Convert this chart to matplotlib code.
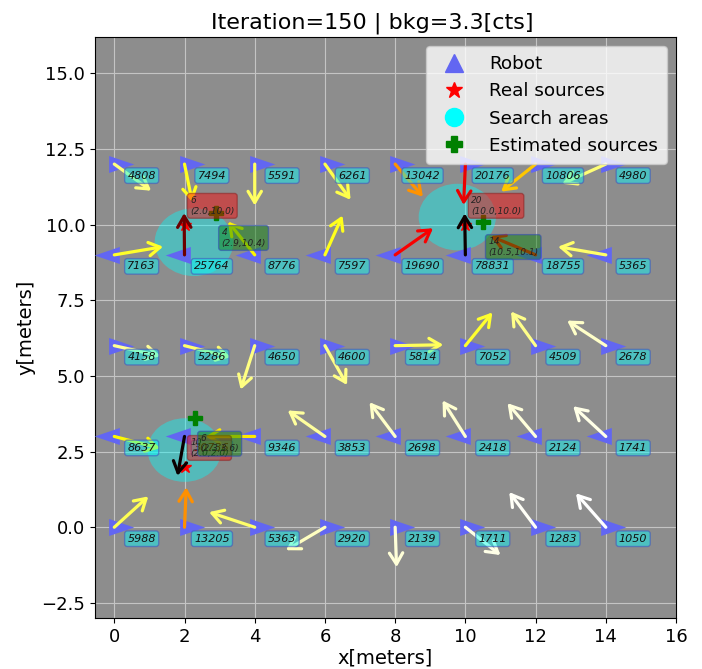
import numpy as np
import matplotlib
matplotlib.use("Agg")
import matplotlib.pyplot as plt
from matplotlib.path import Path
from matplotlib.lines import Line2D
from matplotlib.patches import Circle, FancyArrowPatch
import matplotlib.colors as mcolors

# ---------------- data ----------------
title = "Iteration=150 | bkg=3.3[cts]"
grid_x = [0, 2, 4, 6, 8, 10, 12, 14]
row_y = [12, 9, 6, 3, 0]
row_heading = ["right", "left", "right", "left", "right"]

counts_y12 = [4808, 7494, 5591, 6261, 13042, 20176, 10806, 4980]
counts_y9 = [7163, 25764, 8776, 7597, 19690, 78831, 18755, 5365]
counts_y6 = [4158, 5286, 4650, 4600, 5814, 7052, 4509, 2678]
counts_y3 = [8637, 30736, 9346, 3853, 2698, 2418, 2124, 1741]
counts_y0 = [5988, 13205, 5363, 2920, 2139, 1711, 1283, 1050]

# arrow tips (x, y) for each robot, row by row
tips_y12 = [(1.05, 11.12), (2.22, 10.75), (4.0, 10.63), (6.73, 10.82),
            (8.79, 10.92), (9.95, 10.65), (11.02, 11.09), (12.76, 11.35)]
tips_y9 = [(1.39, 9.27), (1.99, 10.38), (3.24, 10.1), (6.5, 10.3),
           (9.08, 9.88), (9.98, 10.37), (10.72, 9.62), (12.64, 9.27)]
tips_y6 = [(1.31, 5.66), (3.31, 5.62), (3.6, 4.55), (6.63, 4.7),
           (9.37, 6.03), (10.77, 7.1), (11.3, 7.13), (12.9, 6.83)]
tips_y3 = [(1.3, 2.61), (1.8, 1.7), (2.6, 3.0), (4.94, 3.86),
           (7.27, 4.13), (9.35, 4.19), (11.2, 4.1), (13.07, 4.0)]
tips_y0 = [(0.97, 1.02), (2.05, 1.32), (2.7, 0.5), (4.89, -0.76),
           (8.04, -1.32), (11.0, -0.92), (11.25, 1.16), (13.15, 1.12)]

src_x = [2.0, 10.0, 2.0]
src_y = [10.0, 10.0, 2.0]
src_int = [6, 20, 10]

est_x = [2.9, 10.5, 2.3]
est_y = [10.4, 10.1, 3.6]
est_int = [4, 14, 6]

area_x = [2.27, 9.77, 2.0]
area_y = [9.42, 10.25, 2.55]
area_r = [1.12, 1.1, 1.05]

row_counts = [counts_y12, counts_y9, counts_y6, counts_y3, counts_y0]
row_tips = [tips_y12, tips_y9, tips_y6, tips_y3, tips_y0]

# ---------------- style ----------------
robot_color = "#6266f2"
bg = "#8d8d8d"
cmap = plt.get_cmap("hot_r")
norm = mcolors.Normalize(vmin=1000, vmax=30000, clip=True)

codes = [Path.MOVETO, Path.LINETO, Path.LINETO, Path.CLOSEPOLY]
right_marker = Path([(-0.27, -0.43), (1.0, 0.0), (-0.27, 0.43), (-0.27, -0.43)], codes)
left_marker = Path([(0.27, -0.43), (-1.0, 0.0), (0.27, 0.43), (0.27, -0.43)], codes)

fig = plt.figure(figsize=(7.02, 6.69), dpi=100)
ax = fig.add_axes([0.1353, 0.0762, 0.8277, 0.8685])
ax.set_facecolor(bg)
ax.set_xlim(-0.55, 16)
ax.set_ylim(-3.0, 16.2)
ax.grid(True, color="#c4c4c4", lw=0.8)
ax.set_axisbelow(True)

# search areas
for cx, cy, r in zip(area_x, area_y, area_r):
    ax.add_patch(Circle((cx, cy), r, facecolor="cyan", alpha=0.4, edgecolor="none", zorder=2))

# robots
for ry, head, counts, tips in zip(row_y, row_heading, row_counts, row_tips):
    mk = right_marker if head == "right" else left_marker
    ax.plot(grid_x, [ry] * len(grid_x), ls="none", marker=mk, ms=28.5,
            color=robot_color, markeredgewidth=0, zorder=3)
    for rx, c, (tx, ty) in zip(grid_x, counts, tips):
        arr = FancyArrowPatch((rx, ry), (tx, ty),
                              arrowstyle="->,head_length=0.5,head_width=0.3",
                              mutation_scale=16, color=cmap(norm(c)), lw=2.3,
                              shrinkA=0, shrinkB=0, zorder=4)
        ax.add_patch(arr)
        ax.text(rx + 0.78, ry - 0.38, str(c), ha="center", va="center",
                fontsize=8, style="italic", color="#111111", zorder=5,
                bbox=dict(boxstyle="round,pad=0.25", fc=(0, 1, 1, 0.45),
                          ec=(0.25, 0.35, 0.75, 0.6), lw=1))

# real sources
ax.plot(src_x, src_y, ls="none", marker="*", color="red", ms=9, zorder=3.5)
for sx, sy, si in zip(src_x, src_y, src_int):
    ax.text(sx + 0.16, sy + 0.3, f"{si}\n({sx:.1f},{sy:.1f})", ha="left", va="bottom",
            fontsize=6.5, style="italic", color="#222222", zorder=6,
            bbox=dict(boxstyle="round,pad=0.3", fc=(1, 0, 0, 0.45),
                      ec=(0.55, 0.1, 0.1, 0.5), lw=1))

# estimated sources
ax.plot(est_x, est_y, ls="none", marker="P", color="green", ms=9.5, zorder=5.5)
for ex, ey, ei in zip(est_x, est_y, est_int):
    ax.text(ex + 0.15, ey - 0.52, f"{ei}\n({ex:.1f},{ey:.1f})", ha="left", va="top",
            fontsize=6.5, style="italic", color="#222222", zorder=7,
            bbox=dict(boxstyle="round,pad=0.3", fc=(0, 0.5, 0, 0.45),
                      ec=(0.2, 0.3, 0.7, 0.6), lw=1))

handles = [
    Line2D([], [], ls="none", marker="^", color=robot_color, ms=13, label="Robot"),
    Line2D([], [], ls="none", marker="*", color="red", ms=12, label="Real sources"),
    Line2D([], [], ls="none", marker="o", color="cyan", ms=13, label="Search areas"),
    Line2D([], [], ls="none", marker="P", color="green", ms=12, label="Estimated sources"),
]
leg = ax.legend(handles=handles, loc="upper right", fontsize=13.2, framealpha=0.8,
                borderpad=0.5, handletextpad=0.9)
leg.set_zorder(10)

ax.set_title(title, fontsize=16, x=0.478)
ax.set_xlabel("x[meters]", fontsize=14, labelpad=2)
ax.set_ylabel("y[meters]", fontsize=14)
ax.tick_params(labelsize=13)

fig.savefig("out.png", dpi=100)
